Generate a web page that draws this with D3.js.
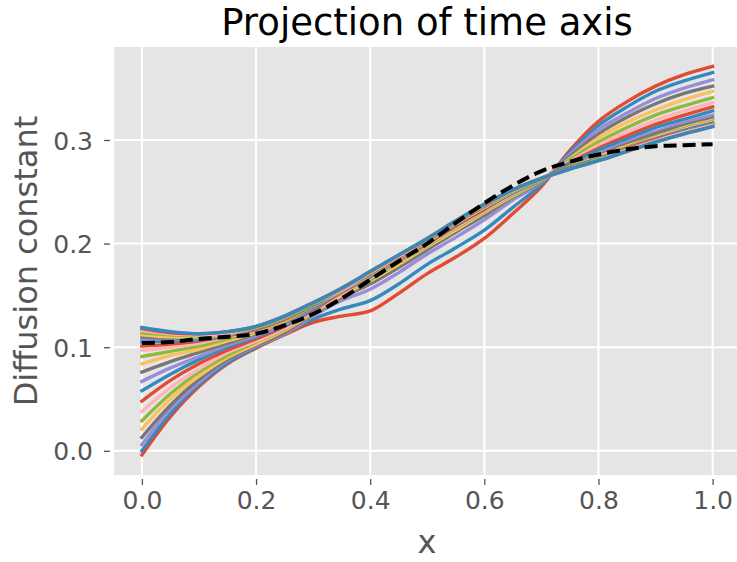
<!DOCTYPE html>
<html><head><meta charset="utf-8">
<script src="https://cdn.jsdelivr.net/npm/d3@7"></script>
<style>body{margin:0;background:#fff}</style>
</head><body><svg id="c" width="737" height="562"></svg>
<script>
const xGrid = [0,0.05,0.1,0.15,0.2,0.25,0.3,0.35,0.4,0.45,0.5,0.55,0.6,0.65,0.7,0.75,0.8,0.85,0.9,0.95,1.0];
const series = [
[-0.004,.033,.062,.084,.099,.112,.124,.130,.135,.152,.171,.187,.205,.229,.255,.290,.318,.337,.352,.363,.371],
[.000,.036,.064,.085,.100,.113,.127,.137,.145,.161,.180,.196,.213,.235,.257,.288,.314,.332,.347,.357,.365],
[.006,.040,.066,.087,.101,.113,.130,.145,.156,.172,.190,.206,.223,.242,.259,.286,.310,.326,.340,.350,.358],
[.013,.044,.069,.088,.102,.114,.132,.148,.161,.177,.194,.211,.227,.245,.260,.284,.306,.322,.335,.345,.352],
[.021,.050,.072,.090,.103,.116,.133,.150,.164,.180,.197,.213,.230,.246,.261,.282,.302,.317,.329,.339,.347],
[.029,.055,.076,.092,.105,.117,.134,.152,.165,.182,.198,.215,.231,.247,.261,.281,.298,.312,.324,.333,.341],
[.038,.061,.079,.095,.106,.118,.135,.152,.167,.183,.199,.216,.232,.248,.262,.279,.295,.308,.319,.328,.336],
[.048,.068,.084,.097,.108,.120,.136,.153,.168,.184,.200,.217,.233,.249,.262,.278,.292,.304,.315,.324,.332],
[.058,.074,.088,.100,.110,.121,.137,.154,.168,.185,.201,.218,.234,.249,.262,.277,.290,.301,.312,.320,.328],
[.067,.080,.091,.102,.111,.122,.138,.154,.169,.185,.202,.219,.235,.250,.262,.275,.287,.298,.308,.317,.324],
[.076,.086,.095,.104,.113,.124,.139,.155,.170,.186,.202,.219,.235,.250,.262,.275,.285,.296,.306,.314,.321],
[.084,.092,.098,.106,.114,.125,.140,.155,.170,.186,.202,.219,.235,.250,.262,.274,.284,.294,.303,.312,.319],
[.091,.096,.101,.108,.115,.126,.140,.155,.170,.186,.203,.220,.236,.250,.262,.274,.283,.293,.303,.311,.318],
[.097,.100,.104,.110,.116,.127,.141,.155,.171,.187,.203,.220,.236,.251,.263,.273,.283,.292,.302,.310,.317],
[.101,.103,.106,.111,.117,.127,.141,.156,.171,.187,.203,.220,.236,.251,.263,.273,.282,.292,.301,.309,.316],
[.105,.106,.107,.112,.118,.128,.141,.156,.172,.188,.204,.221,.237,.251,.263,.273,.282,.291,.300,.309,.316],
[.108,.108,.108,.112,.118,.128,.142,.156,.172,.188,.204,.221,.237,.251,.263,.273,.281,.291,.300,.308,.315],
[.110,.109,.109,.113,.118,.129,.142,.156,.172,.188,.204,.221,.237,.251,.263,.273,.281,.290,.300,.308,.315],
[.112,.110,.110,.113,.119,.129,.142,.156,.172,.188,.204,.221,.237,.251,.263,.272,.281,.290,.299,.307,.314],
[.114,.112,.111,.114,.119,.129,.142,.157,.172,.188,.204,.221,.237,.252,.263,.272,.281,.290,.299,.307,.314],
[.116,.113,.112,.114,.120,.130,.143,.157,.172,.188,.205,.222,.238,.252,.263,.272,.280,.290,.299,.307,.314],
[.118,.114,.113,.115,.120,.130,.143,.157,.173,.189,.205,.222,.238,.252,.263,.272,.280,.289,.298,.306,.313],
[.119,.115,.113,.115,.120,.130,.143,.157,.173,.189,.205,.222,.238,.252,.263,.272,.280,.289,.298,.306,.313]
];
const meanLine = [.104,.105,.108,.110,.113,.121,.132,.147,.165,.183,.200,.220,.239,.256,.270,.279,.286,.291,.294,.295,.296];
const colors = ["#E24A33","#348ABD","#988ED5","#777777","#FBC15E","#8EBA42","#FFB5B8"];
const xTicks = [0,0.2,0.4,0.6,0.8,1.0];
const yTicks = [0,0.1,0.2,0.3];
const titleText = "Projection of time axis";
const xLabel = "x";
const yLabel = "Diffusion constant";

const svg = d3.select("#c");
const font = "DejaVu Sans";
const x = d3.scaleLinear().domain([0,1]).range([141.9,712.6]);
const y = d3.scaleLinear().domain([0,0.3]).range([450.8,140]);
const L = 114, R = 741, T = 47, B = 475;

svg.append("defs").append("clipPath").attr("id","clip")
  .append("rect").attr("x",L).attr("y",T).attr("width",R-L).attr("height",B-T);

svg.append("rect").attr("x",L).attr("y",T).attr("width",R-L).attr("height",B-T).attr("fill","#E5E5E5");

const grid = svg.append("g").attr("stroke","#fff").attr("stroke-width",2);
grid.selectAll(".gx").data(xTicks).join("line")
  .attr("x1",d=>x(d)).attr("x2",d=>x(d)).attr("y1",T).attr("y2",B);
grid.selectAll(".gy").data(yTicks).join("line")
  .attr("y1",d=>y(d)).attr("y2",d=>y(d)).attr("x1",L).attr("x2",R);

const line = d3.line().x((d,i)=>x(xGrid[i])).y(d=>y(d)).curve(d3.curveCatmullRom.alpha(0.5));
const plot = svg.append("g").attr("clip-path","url(#clip)");
plot.selectAll("path.s").data(series).join("path")
  .attr("class","s").attr("d",line).attr("fill","none")
  .attr("stroke",(d,i)=>colors[i%colors.length]).attr("stroke-width",3.4)
  .attr("stroke-linecap","square").attr("stroke-linejoin","round");
plot.append("path").datum(meanLine).attr("d",line).attr("fill","none")
  .attr("stroke","#000").attr("stroke-width",4).attr("stroke-dasharray","13 6");

const xAxis = svg.append("g").attr("transform",`translate(0,479)`)
  .call(d3.axisBottom(x).tickValues(xTicks).tickFormat(d3.format(".1f")).tickSize(6).tickPadding(6.5));
const yAxis = svg.append("g").attr("transform",`translate(110,0)`)
  .call(d3.axisLeft(y).tickValues(yTicks).tickFormat(d3.format(".1f")).tickSize(6).tickPadding(11));
[xAxis,yAxis].forEach(g=>{
  g.select(".domain").remove();
  g.selectAll("line").attr("stroke","#555").attr("stroke-width",1.3);
  g.selectAll("text").attr("fill","#555").style("font-family",font).style("font-size","25px");
});
yAxis.selectAll("text").attr("dy","0.36em");

svg.append("text").attr("x",427).attr("y",35).attr("text-anchor","middle")
  .style("font-family",font).style("font-size","37px").attr("fill","#000").text(titleText);
svg.append("text").attr("x",427).attr("y",553).attr("text-anchor","middle")
  .style("font-family",font).style("font-size","32px").attr("fill","#555").text(xLabel);
svg.append("text").attr("transform","translate(37,261) rotate(-90)").attr("text-anchor","middle")
  .style("font-family",font).style("font-size","32px").attr("fill","#555").text(yLabel);
</script></body></html>
